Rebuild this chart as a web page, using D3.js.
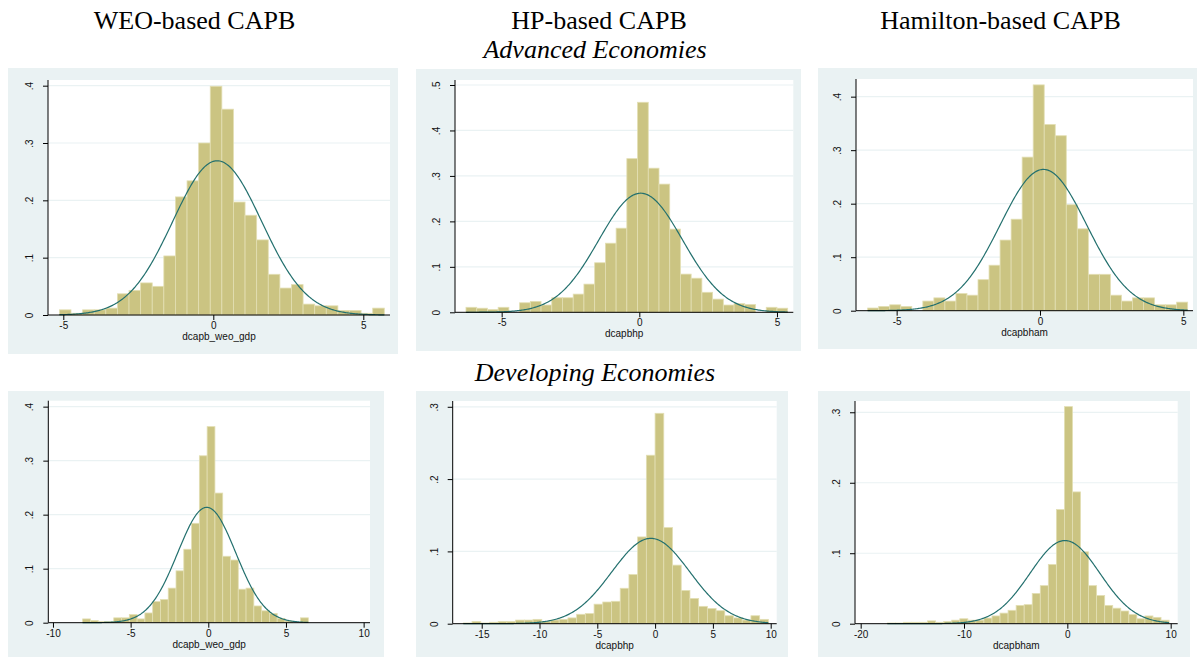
<!DOCTYPE html>
<html><head><meta charset="utf-8">
<script src="https://cdn.jsdelivr.net/npm/d3@7"></script>
<style>body{margin:0;background:#fff}svg{display:block}</style>
</head><body><svg id="c" width="1197" height="657"></svg>
<script>
// ---------- data ----------
const columnTitles = ["WEO-based CAPB", "HP-based CAPB", "Hamilton-based CAPB"];
const rowTitles = ["Advanced Economies", "Developing Economies"];
const variableNames = ["dcapb_weo_gdp", "dcapbhp", "dcapbham", "dcapb_weo_gdp", "dcapbhp", "dcapbham"];

const densAdvWeo = [0.009,0.003,0.009,0.009,0.012,0.037,0.043,0.056,0.050,0.103,0.206,0.234,0.300,0.399,0.359,0.197,0.174,0.131,0.071,0.047,0.053,0.019,0.016,0.016,0.008,0.008,0.003,0.012];
const densAdvHp = [0.011,0.009,0.006,0.011,0,0.021,0.024,0.016,0.032,0.032,0.040,0.062,0.109,0.152,0.185,0.338,0.462,0.317,0.282,0.183,0.084,0.075,0.044,0.029,0.016,0.019,0.017,0,0.011,0.009];
const densAdvHam = [0.005,0.008,0.011,0.008,0,0.018,0.024,0.018,0.032,0.029,0.058,0.085,0.132,0.171,0.287,0.422,0.348,0.327,0.198,0.153,0.068,0.068,0.029,0.018,0.024,0.024,0.011,0.011,0.016];
const densDevWeo = [0.007,0.004,0.002,0.002,0.009,0.009,0.015,0.007,0.018,0.039,0.043,0.064,0.096,0.136,0.184,0.309,0.363,0.240,0.123,0.116,0.062,0.064,0.031,0.022,0.017,0.008,0.003,0,0.009];
const densDevHp = [0.001,0.003,0.001,0.002,0.003,0.003,0.005,0.005,0.006,0.003,0.005,0.006,0.008,0.013,0.014,0.027,0.030,0.031,0.049,0.068,0.120,0.233,0.291,0.133,0.081,0.046,0.035,0.024,0.021,0.018,0.011,0.008,0.005,0.011,0.006];
const densDevHam = [0.001,0.001,0.002,0.002,0.002,0.004,0.002,0.003,0.005,0.007,0.005,0.005,0.008,0.011,0.015,0.019,0.026,0.027,0.043,0.054,0.084,0.162,0.308,0.187,0.102,0.054,0.040,0.026,0.022,0.018,0.013,0.007,0.011,0.009,0.005];

const binStart = [-5.13, -6.296, -6.011, -8.09, -16.59, -17.42];
const binWidth = [0.3868, 0.3895, 0.3849, 0.501, 0.754, 0.779];
const normalMean = [0.13, 0.05, 0.12, -0.10, -0.37, -0.23];
const normalSd = [1.483, 1.523, 1.511, 1.868, 3.381, 3.381];

const xTicksAdv = [-5, 0, 5];
const xTicksDevWeo = [-10, -5, 0, 5, 10];
const xTicksDevHp = [-15, -10, -5, 0, 5, 10];
const xTicksDevHam = [-20, -10, 0, 10];
const yTicks03 = [0, .1, .2, .3];
const yTicks04 = [0, .1, .2, .3, .4];
const yTicks05 = [0, .1, .2, .3, .4, .5];

const densities = [densAdvWeo, densAdvHp, densAdvHam, densDevWeo, densDevHp, densDevHam];
const xTicks = [xTicksAdv, xTicksAdv, xTicksAdv, xTicksDevWeo, xTicksDevHp, xTicksDevHam];
const yTicks = [yTicks04, yTicks05, yTicks04, yTicks04, yTicks03, yTicks03];

// ---------- layout ----------
const layout = [
  {bg:[8,68,398,354],   plot:[48,80,390,315],        xd:[-5.51,5.89],   yd:[0,0.4099]},
  {bg:[416,69,801,351], plot:[455,80,793.3,312.3],   xd:[-6.695,5.593], yd:[0,0.511]},
  {bg:[818,68,1197,349],plot:[856,79,1193,310.7],    xd:[-6.418,5.337], yd:[0,0.433]},
  {bg:[8,391,384,657],  plot:[48.3,400.7,370,622.7], xd:[-10.30,10.41], yd:[0,0.411]},
  {bg:[416,391,788,657],plot:[452.7,401,776.7,623.7],xd:[-17.51,10.52], yd:[0,0.308]},
  {bg:[818,391,1190,657],plot:[855,401,1177.7,623.7],xd:[-20.55,10.68], yd:[0,0.316]}
];

const BG = "#eaf2f3", BAR = "#cbc482", BAR_EDGE = "#e3dfb4", CURVE = "#23706e";
const svg = d3.select("#c");
const fmt = v => v === 0 ? "0" : (v < 0 ? "-" : "") + String(Math.abs(v)).replace(/^0\./, ".");

layout.forEach((L, k) => {
  const [bx0, by0, bx1, by1] = L.bg, [px0, py0, px1, py1] = L.plot;
  const g = svg.append("g");
  g.append("rect").attr("x", bx0).attr("y", by0).attr("width", bx1 - bx0).attr("height", by1 - by0).attr("fill", BG);
  g.append("rect").attr("x", px0).attr("y", py0).attr("width", px1 - px0).attr("height", py1 - py0).attr("fill", "#fff");
  const x = d3.scaleLinear().domain(L.xd).range([px0, px1]);
  const y = d3.scaleLinear().domain(L.yd).range([py1, py0]);

  // gridlines
  g.selectAll("line.grid").data(yTicks[k].filter(v => v > 0)).join("line")
    .attr("x1", px0).attr("x2", px1).attr("y1", d => y(d)).attr("y2", d => y(d))
    .attr("stroke", BG).attr("stroke-width", 1.2);

  // bars
  const bins = densities[k].map((d, i) => ({x0: binStart[k] + i * binWidth[k], x1: binStart[k] + (i + 1) * binWidth[k], d}));
  g.selectAll("rect.bar").data(bins.filter(b => b.d > 0)).join("rect")
    .attr("x", b => x(b.x0)).attr("width", b => x(b.x1) - x(b.x0))
    .attr("y", b => y(b.d)).attr("height", b => y(0) - y(b.d))
    .attr("fill", BAR).attr("stroke", BAR_EDGE).attr("stroke-width", 0.8);

  // normal curve
  const lo = binStart[k], hi = binStart[k] + densities[k].length * binWidth[k];
  const pts = d3.range(0, 301).map(i => lo + (hi - lo) * i / 300);
  const m = normalMean[k], s = normalSd[k];
  const line = d3.line().x(v => x(v)).y(v => y(Math.exp(-0.5 * ((v - m) / s) ** 2) / (s * Math.sqrt(2 * Math.PI))));
  g.append("path").datum(pts).attr("d", line).attr("fill", "none").attr("stroke", CURVE).attr("stroke-width", 1.2);

  // axes
  const xa = g.append("g").attr("transform", `translate(0,${py1})`)
    .call(d3.axisBottom(x).tickValues(xTicks[k]).tickFormat(fmt).tickSize(5).tickPadding(2).tickSizeOuter(0));
  xa.select(".domain").attr("d", `M${px0},0H${px1}`).attr("stroke", "#000");
  xa.selectAll("text").attr("font-family", "Liberation Sans, Arial, sans-serif").attr("font-size", 10).attr("fill", "#111");
  const ya = g.append("g").attr("transform", `translate(${px0},0)`)
    .call(d3.axisLeft(y).tickValues(yTicks[k]).tickFormat(fmt).tickSize(5).tickSizeOuter(0));
  ya.select(".domain").attr("d", `M0,${py0}V${py1}`).attr("stroke", "#000");
  ya.selectAll("text").attr("font-family", "Liberation Sans, Arial, sans-serif").attr("font-size", 10).attr("fill", "#111")
    .attr("text-anchor", "middle").attr("dy", 0).attr("x", null)
    .attr("transform", "translate(-15,0) rotate(-90)");
  g.append("text").attr("x", (px0 + px1) / 2).attr("y", py1 + 25).attr("text-anchor", "middle")
    .attr("font-family", "Liberation Sans, Arial, sans-serif").attr("font-size", 10).attr("fill", "#111")
    .text(variableNames[k]);
});

// titles
const colCenters = [194.5, 599, 1000.5];
svg.selectAll("text.col").data(columnTitles).join("text")
  .attr("x", (d, i) => colCenters[i]).attr("y", 29).attr("text-anchor", "middle")
  .attr("font-family", "Liberation Serif, Times New Roman, serif").attr("font-size", 26).attr("fill", "#000").text(d => d);
const rowBaselines = [58, 381];
svg.selectAll("text.row").data(rowTitles).join("text")
  .attr("x", 595).attr("y", (d, i) => rowBaselines[i]).attr("text-anchor", "middle")
  .attr("font-family", "Liberation Serif, Times New Roman, serif").attr("font-style", "italic").attr("font-size", 26).attr("fill", "#000").text(d => d);
</script></body></html>
